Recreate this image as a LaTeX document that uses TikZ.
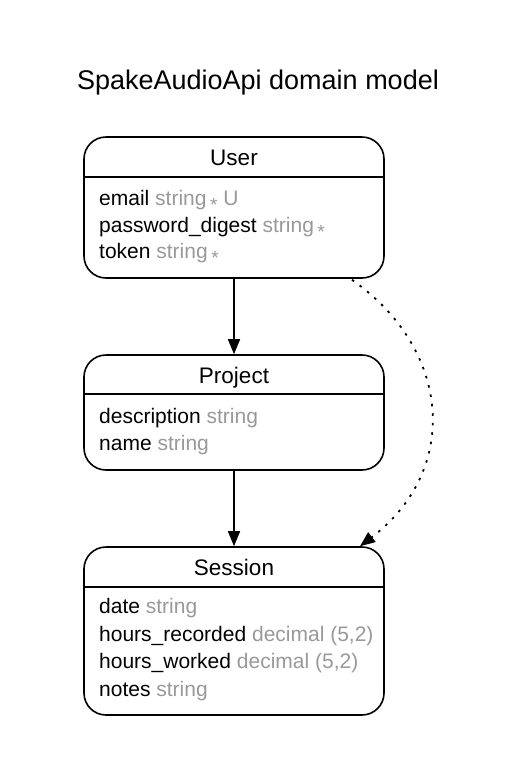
\documentclass[tikz,border=0pt]{standalone}
\usepackage{fontspec}
\setmainfont{Liberation Sans}
\usetikzlibrary{arrows.meta,calc}
\definecolor{erdink}{HTML}{000000}
\definecolor{erdtype}{HTML}{999999}
\newcommand{\reqmark}{\,\raisebox{-6.5pt}{\fontsize{19}{19}\selectfont *}}
\tikzset{
  ent/.style={draw=erdink, line width=1.6pt, rounded corners=22pt, minimum width=300pt, fill=white},
  sep/.style={draw=erdink, line width=1.6pt},
  etitle/.style={anchor=base, inner sep=0pt, font=\fontsize{22.5}{26}\selectfont},
  attr/.style={anchor=base west, inner sep=0pt, font=\fontsize{21}{24}\selectfont},
  arr/.style={-{Triangle[length=15pt,width=12pt]}, line width=1.6pt, color=erdink},
  darr/.style={-{Triangle[length=15pt,width=12pt]}, line width=1.8pt, dash pattern=on 2.5pt off 7pt, color=erdink},
}
\newcommand{\typ}[1]{\textcolor{erdtype}{#1}}
\begin{document}
\begin{tikzpicture}[x=1pt, y=-1pt]
    \useasboundingbox (0,0) rectangle (516,777);
    \node[anchor=base, inner sep=0pt, font=\fontsize{27}{30}\selectfont] (title) at (258,89) {SpakeAudioApi domain model};
    % entities
    \node[ent, minimum height=141pt] (user) at (234,207.5) {};
    \draw[sep] (user.west |- 0,177) -- (user.east |- 0,177);
    \node[etitle] (usert) at (234,165) {User};
    \node[attr] (u1) at (99,205) {email \typ{string\reqmark\ U}};
    \node[attr] (u2) at (99,232) {password\_digest \typ{string\reqmark}};
    \node[attr] (u3) at (99,258) {token \typ{string\reqmark}};
    \node[ent, minimum height=115pt] (project) at (234,412.5) {};
    \draw[sep] (project.west |- 0,394) -- (project.east |- 0,394);
    \node[etitle] (projectt) at (234,383) {Project};
    \node[attr] (p1) at (99,423) {description \typ{string}};
    \node[attr] (p2) at (99,450) {name \typ{string}};
    \node[ent, minimum height=168pt] (session) at (234,631) {};
    \draw[sep] (session.west |- 0,587) -- (session.east |- 0,587);
    \node[etitle] (sessiont) at (234,575) {Session};
    \node[attr] (s1) at (99,613) {date \typ{string}};
    \node[attr] (s2) at (99,641) {hours\_recorded \typ{decimal (5,2)}};
    \node[attr] (s3) at (99,668) {hours\_worked \typ{decimal (5,2)}};
    \node[attr] (s4) at (99,696) {notes \typ{string}};
    % relations
    \draw[arr] (user) -- (project);
    \draw[arr] (project) -- (session);
    \draw[darr] ($(user.south)+(118,1)$) .. controls (452,350) and (460,470) .. ($(session.north)+(126,0)$);
  \end{tikzpicture}
\end{document}
